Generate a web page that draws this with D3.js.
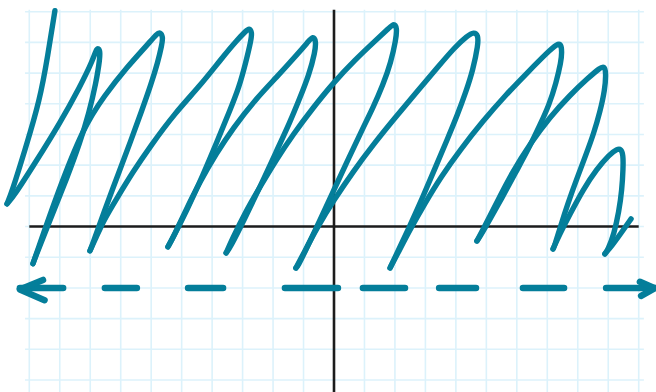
<!DOCTYPE html>
<html>
<head>
<meta charset="utf-8">
<script src="https://cdn.jsdelivr.net/npm/d3@7"></script>
<style>
  html, body { margin: 0; padding: 0; background: #ffffff; }
  svg { display: block; }
</style>
</head>
<body>
<svg id="chart" width="656" height="392"></svg>
<script>
// Grid units: one square per unit, origin where the axes cross.
const gridX = d3.range(-10, 11);          // vertical grid lines
const gridY = d3.range(-5, 8);            // horizontal grid lines

// Hand-drawn sawtooth stroke, in grid units, in drawing order
// (one line per up-stroke or down-stroke).
const strokeU = [
  -9.16, -9.39, -9.65, -10.14, -10.57, -10.73,
  -10.50, -9.81, -8.99, -8.34, -7.91, -7.78, -7.68,
  -7.68, -7.81, -8.04, -8.34, -8.76, -9.32, -9.81, -9.88,
  -9.78, -9.06, -8.24, -7.52, -6.79, -6.10, -5.81, -5.71, -5.61,
  -5.65, -5.78, -6.01, -6.30, -6.66, -7.09, -7.55, -7.94, -8.01,
  -7.84, -7.55, -7.12, -6.60, -6.04, -5.22, -4.40, -3.68, -3.18, -2.89, -2.79, -2.69,
  -2.72, -2.89, -3.12, -3.41, -3.84, -4.30, -4.82, -5.32, -5.45,
  -5.25, -4.86, -4.40, -3.87, -3.31, -2.59, -1.87, -1.25, -0.85, -0.69, -0.59,
  -0.62, -0.82, -1.12, -1.44, -1.90, -2.43, -2.95, -3.41, -3.54,
  -3.35, -2.92, -2.43, -1.90, -1.35, -0.69, 0.00, 0.69, 1.35, 1.81, 1.97, 2.07,
  2.03, 1.87, 1.61, 1.28, 0.92, 0.49, 0.00, -0.49, -0.95, -1.18,
  -1.25, -1.02, -0.56, 0.00, 0.62, 1.28, 2.00, 2.72, 3.41, 3.97, 4.37, 4.59, 4.73,
  4.73, 4.56, 4.33, 4.04, 3.71, 3.35, 2.92, 2.46, 2.03, 1.87,
  1.84, 2.07, 2.49, 2.99, 3.51, 4.14, 4.89, 5.61, 6.37, 7.02, 7.32, 7.45, 7.48,
  7.45, 7.29, 7.06, 6.76, 6.40, 5.97, 5.51, 5.02, 4.73,
  4.69, 4.92, 5.35, 5.84, 6.43, 7.09, 7.75, 8.34, 8.73, 8.86, 8.93,
  8.89, 8.73, 8.53, 8.27, 7.98, 7.68, 7.42, 7.25, 7.19,
  7.38, 7.75, 8.17, 8.63, 9.03, 9.29, 9.42, 9.49,
  9.49, 9.45, 9.35, 9.19, 8.99, 8.89,
  9.12, 9.45, 9.75
];
const strokeV = [
  7.03, 5.59, 4.13, 2.50, 1.13, 0.74,
  1.00, 2.07, 3.38, 4.55, 5.43, 5.85, 5.76,
  5.49, 4.68, 3.70, 2.73, 1.59, 0.22, -1.02, -1.21,
  -0.92, 1.13, 3.21, 4.29, 5.20, 5.95, 6.28, 6.34, 6.18,
  5.92, 5.36, 4.62, 3.80, 2.82, 1.68, 0.48, -0.63, -0.79,
  -0.43, 0.22, 0.93, 1.78, 2.60, 3.70, 4.58, 5.49, 6.08, 6.37, 6.47, 6.34,
  6.08, 5.36, 4.52, 3.80, 2.76, 1.68, 0.54, -0.43, -0.66,
  -0.30, 0.54, 1.46, 2.37, 3.21, 4.13, 4.88, 5.56, 6.02, 6.21, 6.05,
  5.69, 4.94, 4.19, 3.41, 2.43, 1.29, 0.22, -0.69, -0.86,
  -0.43, 0.45, 1.29, 2.17, 2.99, 3.87, 4.71, 5.43, 6.05, 6.47, 6.63, 6.47,
  6.08, 5.36, 4.62, 3.87, 3.15, 2.24, 1.20, 0.15, -0.82, -1.28,
  -1.35, -0.92, -0.04, 0.87, 1.78, 2.66, 3.54, 4.39, 5.20, 5.85, 6.21, 6.34, 6.24,
  5.92, 5.10, 4.39, 3.61, 2.82, 1.98, 0.97, -0.04, -0.95, -1.28,
  -1.35, -0.92, -0.11, 0.77, 1.62, 2.50, 3.44, 4.26, 5.04, 5.69, 5.95, 5.95, 5.69,
  5.36, 4.68, 3.96, 3.31, 2.56, 1.78, 0.93, 0.06, -0.43,
  -0.47, -0.04, 0.80, 1.75, 2.69, 3.57, 4.29, 4.84, 5.17, 5.23, 5.04,
  4.45, 3.74, 3.05, 2.34, 1.59, 0.77, -0.04, -0.60, -0.73,
  -0.30, 0.41, 1.20, 1.88, 2.34, 2.53, 2.53, 2.34,
  1.91, 1.20, 0.48, -0.24, -0.76, -0.89,
  -0.63, -0.17, 0.25
];

// Dashed number line at y = -2: start/end of each dash, then the arrowheads.
const dashLevel = -2;
const dashStart = [-10.31, -7.52, -4.79, -1.61, 0.95, 3.45, 6.20, 8.93];
const dashEnd   = [-8.89, -6.47, -3.64, 0.13, 2.33, 4.66, 7.55, 10.53];
const arrowLeft  = [[-9.55, -1.74], [-10.31, -2.05], [-9.50, -2.40]];
const arrowRight = [[10.04, -1.80], [10.53, -2.01], [10.08, -2.26]];

const width = 656, height = 392;
const x = d3.scaleLinear().domain([-10, 10]).range([29.3, 638.7]);
const y = d3.scaleLinear().domain([-5, 7]).range([380, 11.7]);

const svg = d3.select("#chart");
const ink = "#047e9a";

// grid
const g = svg.append("g").attr("stroke", "#dcf2fb").attr("stroke-width", 1.6);
g.selectAll("line.vx").data(gridX).join("line")
  .attr("x1", d => x(d)).attr("x2", d => x(d))
  .attr("y1", y(7.06)).attr("y2", height);
g.selectAll("line.hy").data(gridY).join("line")
  .attr("y1", d => y(d)).attr("y2", d => y(d))
  .attr("x1", x(-10.14)).attr("x2", x(10.17));

// axes
const ax = svg.append("g").attr("stroke", "#1c1c1c").attr("stroke-width", 2.6);
ax.append("line").attr("x1", x(-10)).attr("x2", x(10)).attr("y1", y(0)).attr("y2", y(0));
ax.append("line").attr("x1", x(0)).attr("x2", x(0)).attr("y1", y(7.06)).attr("y2", height);

// dashed line with arrows
const pen = svg.append("g").attr("fill", "none").attr("stroke", ink)
  .attr("stroke-linecap", "round").attr("stroke-linejoin", "round");
pen.selectAll("line.dash").data(d3.zip(dashStart, dashEnd)).join("line")
  .attr("x1", d => x(d[0])).attr("x2", d => x(d[1]))
  .attr("y1", y(dashLevel)).attr("y2", y(dashLevel))
  .attr("stroke-width", 6.5);
const poly = d3.line().x(d => x(d[0])).y(d => y(d[1]));
pen.selectAll("path.arrow").data([arrowLeft, arrowRight]).join("path")
  .attr("d", poly).attr("stroke-width", 6.5);

// the sawtooth curve: split at the bottom turning points so each
// tooth is drawn as one smooth pen movement ending in a sharp turn
const pts = d3.zip(strokeU, strokeV);
const cuts = [0];
for (let i = 1; i < pts.length - 1; i++) {
  if (pts[i][1] < pts[i - 1][1] && pts[i][1] <= pts[i + 1][1]) cuts.push(i);
}
cuts.push(pts.length - 1);
const teeth = d3.pairs(cuts).map(([a, b]) => pts.slice(a, b + 1));
const curve = d3.line().x(d => x(d[0])).y(d => y(d[1]))
  .curve(d3.curveBasis);
pen.selectAll("path.tooth").data(teeth).join("path")
  .attr("class", "tooth")
  .attr("d", curve).attr("stroke-width", 5.4);
</script>
</body>
</html>
